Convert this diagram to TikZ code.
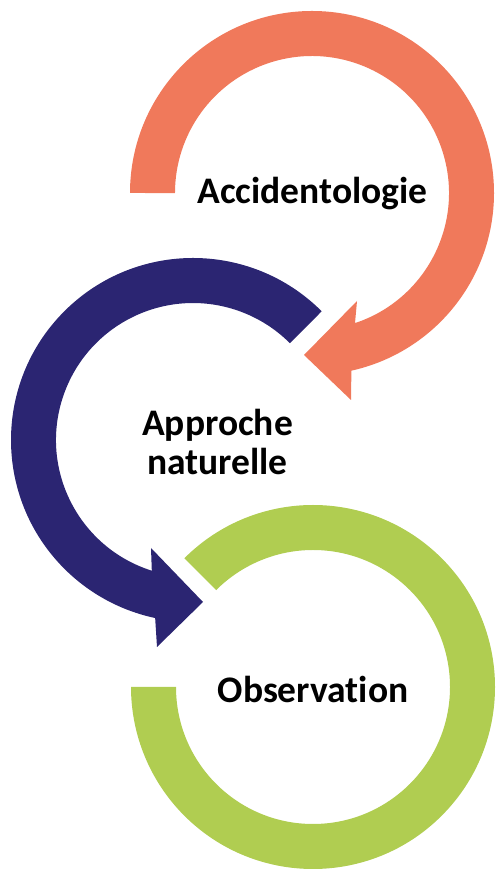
\documentclass[tikz,border=0pt]{standalone}
\usepackage{fontspec}
\setmainfont{Carlito}[Ligatures=NoCommon]
\definecolor{ringorange}{RGB}{240,121,91}
\definecolor{ringnavy}{RGB}{43,37,114}
\definecolor{ringgreen}{RGB}{176,205,81}
\tikzset{
  lbl/.style={font=\bfseries\fontsize{37.5}{39}\selectfont, text=black, inner sep=0pt, align=center}
}
\begin{document}
\begin{tikzpicture}[x=1pt,y=1pt]
\useasboundingbox (0,0) rectangle (496,869);
% orange circular arrow (centre 312,676)
\fill[ringorange] (312,676) ++(180:182) arc[start angle=180, end angle=-77.5, radius=182]
  -- (351,469) -- (304,514) -- (357,568) -- (355,545.9)
  arc[start angle=-71.7, end angle=180, radius=137] -- cycle;
% navy circular arrow (centre 193,429)
\fill[ringnavy] (193,429) ++(45:182) arc[start angle=45, end angle=258, radius=182]
  -- (157,222) -- (203,267) -- (151,321) -- (151.8,298.3)
  arc[start angle=252.5, end angle=45, radius=137] -- cycle;
% green ring (centre 313,182)
\fill[ringgreen] (313,182) ++(135:182) arc[start angle=135, end angle=-180, radius=182]
  -- (176,182) arc[start angle=-180, end angle=135, radius=137] -- cycle;
% labels
\node[lbl, anchor=base] (acc) at (312.5,665) {Accidentologie};
\node[lbl] (app) at (217.5,427) {Approche\\naturelle};
\node[lbl, anchor=base] (obs) at (313,166) {Observation};
\end{tikzpicture}
\end{document}
